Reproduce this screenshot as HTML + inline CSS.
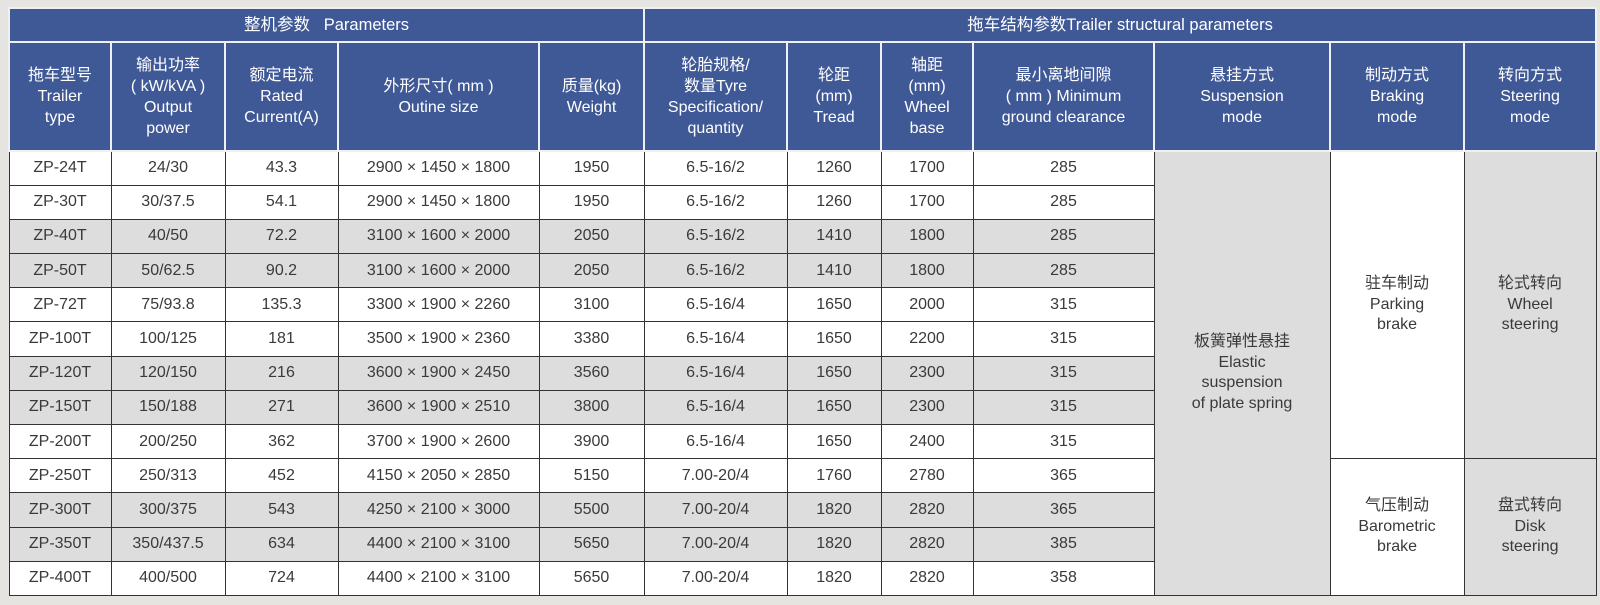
<!DOCTYPE html>
<html><head><meta charset="utf-8"><style>
html,body{margin:0;padding:0;}
body{width:1600px;height:605px;background:#e6e4e1;overflow:hidden;position:relative;font-family:"Liberation Sans","Noto Sans CJK SC",sans-serif;}
table{position:absolute;left:8px;top:7px;border-collapse:collapse;table-layout:fixed;width:1587px;}
td{padding:0;text-align:center;vertical-align:middle;}
.h td{background:#3f5896;color:#fff;border:2px solid #eef0f4;font-size:16px;line-height:21px;}
.h1 td{height:32px;font-size:16.5px;}
.h2 td{height:100px;}
.h2{height:109px;}
.d{height:34.2px;}
.d td{border:1.5px solid #333;color:#3a3a3a;font-size:16px;background:#fff;}
.d.g td{background:#dcdddc;}
.d td.gr{background:#dcdddc;}
.d td.w{background:#fff;}
.m{line-height:20.5px;}
</style></head><body>
<table>
<colgroup><col style="width:102px"><col style="width:114px"><col style="width:113px"><col style="width:201px"><col style="width:105px"><col style="width:143px"><col style="width:94px"><col style="width:92px"><col style="width:181px"><col style="width:176px"><col style="width:134px"><col style="width:132px"></colgroup>
<tr class="h h1"><td colspan="5">整机参数&nbsp;&nbsp; Parameters</td><td colspan="7">拖车结构参数Trailer structural parameters</td></tr>
<tr class="h h2">
<td>拖车型号<br>Trailer<br>type</td>
<td>输出功率<br>( kW/kVA )<br>Output<br>power</td>
<td>额定电流<br>Rated<br>Current(A)</td>
<td>外形尺寸( mm )<br>Outine size</td>
<td>质量(kg)<br>Weight</td>
<td>轮胎规格/<br>数量Tyre<br>Specification/<br>quantity</td>
<td>轮距<br>(mm)<br>Tread</td>
<td>轴距<br>(mm)<br>Wheel<br>base</td>
<td>最小离地间隙<br>( mm ) Minimum<br>ground clearance</td>
<td>悬挂方式<br>Suspension<br>mode</td>
<td>制动方式<br>Braking<br>mode</td>
<td>转向方式<br>Steering<br>mode</td>
</tr>
<tr class="d"><td>ZP-24T</td><td>24/30</td><td>43.3</td><td>2900 × 1450 × 1800</td><td>1950</td><td>6.5-16/2</td><td>1260</td><td>1700</td><td>285</td>
<td rowspan="13" class="gr m">板簧弹性悬挂<br>Elastic<br>suspension<br>of plate spring</td>
<td rowspan="9" class="w m">驻车制动<br>Parking<br>brake</td>
<td rowspan="9" class="gr m">轮式转向<br>Wheel<br>steering</td></tr>
<tr class="d"><td>ZP-30T</td><td>30/37.5</td><td>54.1</td><td>2900 × 1450 × 1800</td><td>1950</td><td>6.5-16/2</td><td>1260</td><td>1700</td><td>285</td></tr>
<tr class="d g"><td>ZP-40T</td><td>40/50</td><td>72.2</td><td>3100 × 1600 × 2000</td><td>2050</td><td>6.5-16/2</td><td>1410</td><td>1800</td><td>285</td></tr>
<tr class="d g"><td>ZP-50T</td><td>50/62.5</td><td>90.2</td><td>3100 × 1600 × 2000</td><td>2050</td><td>6.5-16/2</td><td>1410</td><td>1800</td><td>285</td></tr>
<tr class="d"><td>ZP-72T</td><td>75/93.8</td><td>135.3</td><td>3300 × 1900 × 2260</td><td>3100</td><td>6.5-16/4</td><td>1650</td><td>2000</td><td>315</td></tr>
<tr class="d"><td>ZP-100T</td><td>100/125</td><td>181</td><td>3500 × 1900 × 2360</td><td>3380</td><td>6.5-16/4</td><td>1650</td><td>2200</td><td>315</td></tr>
<tr class="d g"><td>ZP-120T</td><td>120/150</td><td>216</td><td>3600 × 1900 × 2450</td><td>3560</td><td>6.5-16/4</td><td>1650</td><td>2300</td><td>315</td></tr>
<tr class="d g"><td>ZP-150T</td><td>150/188</td><td>271</td><td>3600 × 1900 × 2510</td><td>3800</td><td>6.5-16/4</td><td>1650</td><td>2300</td><td>315</td></tr>
<tr class="d"><td>ZP-200T</td><td>200/250</td><td>362</td><td>3700 × 1900 × 2600</td><td>3900</td><td>6.5-16/4</td><td>1650</td><td>2400</td><td>315</td></tr>
<tr class="d"><td>ZP-250T</td><td>250/313</td><td>452</td><td>4150 × 2050 × 2850</td><td>5150</td><td>7.00-20/4</td><td>1760</td><td>2780</td><td>365</td>
<td rowspan="4" class="w m">气压制动<br>Barometric<br>brake</td>
<td rowspan="4" class="gr m">盘式转向<br>Disk<br>steering</td></tr>
<tr class="d g"><td>ZP-300T</td><td>300/375</td><td>543</td><td>4250 × 2100 × 3000</td><td>5500</td><td>7.00-20/4</td><td>1820</td><td>2820</td><td>365</td></tr>
<tr class="d g"><td>ZP-350T</td><td>350/437.5</td><td>634</td><td>4400 × 2100 × 3100</td><td>5650</td><td>7.00-20/4</td><td>1820</td><td>2820</td><td>385</td></tr>
<tr class="d"><td>ZP-400T</td><td>400/500</td><td>724</td><td>4400 × 2100 × 3100</td><td>5650</td><td>7.00-20/4</td><td>1820</td><td>2820</td><td>358</td></tr>
</table>
</body></html>
